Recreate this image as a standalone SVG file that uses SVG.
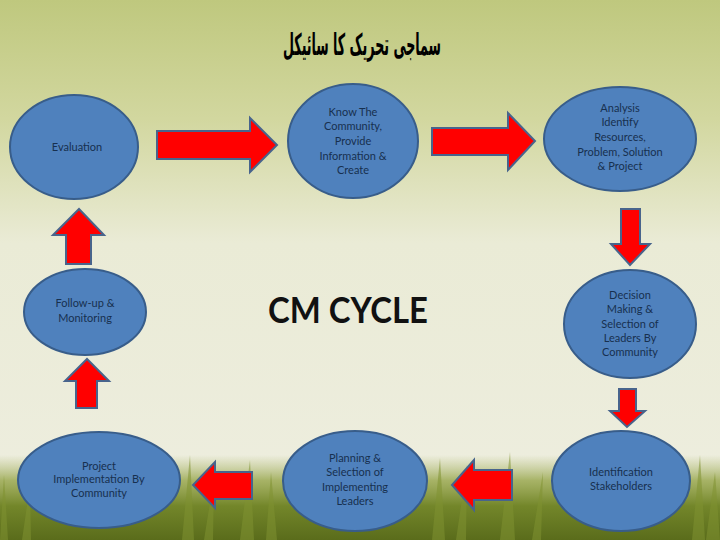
<svg xmlns="http://www.w3.org/2000/svg" width="720" height="540" viewBox="0 0 720 540">
<defs>
<linearGradient id="bg" x1="0" y1="0" x2="0" y2="1">
<stop offset="0" stop-color="#bfc87e"/>
<stop offset="0.22" stop-color="#d2d79f"/>
<stop offset="0.45" stop-color="#eaebd6"/>
<stop offset="1" stop-color="#eeeee0"/>
</linearGradient>
<linearGradient id="grass" x1="0" y1="0" x2="0" y2="1">
<stop offset="0" stop-color="#a6b264" stop-opacity="0"/>
<stop offset="0.3" stop-color="#95a448" stop-opacity="0.8"/>
<stop offset="0.6" stop-color="#73862a"/>
<stop offset="1" stop-color="#5a6c1b"/>
</linearGradient>
<style>
.node ellipse{fill:#4f81bd;stroke:#385d8a;stroke-width:2}
.node text{font-family:Lato,"Open Sans","Liberation Sans",sans-serif;font-size:11px;fill:#17304f;text-anchor:middle}
.arrow{fill:#ff0000;stroke:#48648c;stroke-width:2;stroke-linejoin:miter}
.blade{fill:#7f9232;opacity:0.55}
</style>
</defs>
<rect width="720" height="540" fill="url(#bg)"/>
<g id="grass-bg">
<rect x="0" y="455" width="720" height="85" fill="url(#grass)"/>
<path class="blade" d="M0 540 L4 475 L8 540 Z M22 540 L30 485 L31 540 Z M182 540 L190 455 L194 540 Z M204 540 L214 478 L213 540 Z M240 540 L250 460 L254 540 Z M266 540 L271 472 L277 540 Z M432 540 L440 458 L445 540 Z M456 540 L467 465 L466 540 Z M500 540 L510 452 L515 540 Z M532 540 L543 472 L541 540 Z M692 540 L700 455 L705 540 Z M706 540 L715 472 L720 540 Z"/>
</g>
<text x="362" y="55" font-family="'DejaVu Sans',sans-serif" font-weight="bold" font-size="30" fill="#000" text-anchor="middle" direction="rtl" textLength="158" lengthAdjust="spacingAndGlyphs">سماجی تحریک کا سائیکل</text>
<text x="348" y="323" font-family="Lato,'Open Sans','Liberation Sans',sans-serif" font-weight="bold" font-size="37" fill="#111" text-anchor="middle" textLength="160" lengthAdjust="spacingAndGlyphs">CM CYCLE</text>
<g id="connectors">
<path class="arrow" d="M157 131 H250 V118 L277 145 L250 172 V159 H157 Z"/>
<path class="arrow" d="M432 128 H508 V113 L535 141 L508 170 V155 H432 Z"/>
<path class="arrow" d="M621 209 H640 V244 H650 L630 265 L611 244 H621 Z"/>
<path class="arrow" d="M619 389 H636 V411 H645 L627 427 L610 411 H619 Z"/>
<path class="arrow" d="M512 470 H474 V460 L452 485 L474 510 V500 H512 Z"/>
<path class="arrow" d="M252 472 H215 V462 L193 485 L215 508 V499 H252 Z"/>
<path class="arrow" d="M76 408 V381 H65 L87 359 L109 381 H97 V408 Z"/>
<path class="arrow" d="M66 264 V235 H53 L79 209 L104 235 H91 V264 Z"/>
</g>
<g id="n-evaluation" class="node"><ellipse cx="74" cy="147" rx="64" ry="52"/><text x="77" y="151">Evaluation</text></g>
<g id="n-know" class="node"><ellipse cx="353" cy="141" rx="65" ry="57"/>
<text x="353" y="116">Know The</text><text x="353" y="130">Community,</text><text x="353" y="145">Provide</text><text x="353" y="160">Information &amp;</text><text x="353" y="174">Create</text></g>
<g id="n-analysis" class="node"><ellipse cx="620" cy="139" rx="76" ry="52"/>
<text x="620" y="112">Analysis</text><text x="620" y="126">Identify</text><text x="620" y="141">Resources,</text><text x="620" y="156">Problem, Solution</text><text x="620" y="170">&amp; Project</text></g>
<g id="n-decision" class="node"><ellipse cx="630" cy="324" rx="66" ry="54"/>
<text x="630" y="299">Decision</text><text x="630" y="313">Making &amp;</text><text x="630" y="328">Selection of</text><text x="630" y="342">Leaders By</text><text x="630" y="356">Community</text></g>
<g id="n-identification" class="node"><ellipse cx="621" cy="481" rx="69" ry="50"/>
<text x="621" y="476">Identification</text><text x="621" y="490">Stakeholders</text></g>
<g id="n-planning" class="node"><ellipse cx="355" cy="481" rx="72" ry="50"/>
<text x="355" y="462">Planning &amp;</text><text x="355" y="476">Selection of</text><text x="355" y="491">Implementing</text><text x="355" y="505">Leaders</text></g>
<g id="n-project" class="node"><ellipse cx="99" cy="480" rx="81" ry="48"/>
<text x="99" y="470">Project</text><text x="99" y="483">Implementation By</text><text x="99" y="497">Community</text></g>
<g id="n-followup" class="node"><ellipse cx="85" cy="312" rx="61" ry="43"/>
<text x="85" y="307">Follow-up &amp;</text><text x="85" y="322">Monitoring</text></g>
</svg>
